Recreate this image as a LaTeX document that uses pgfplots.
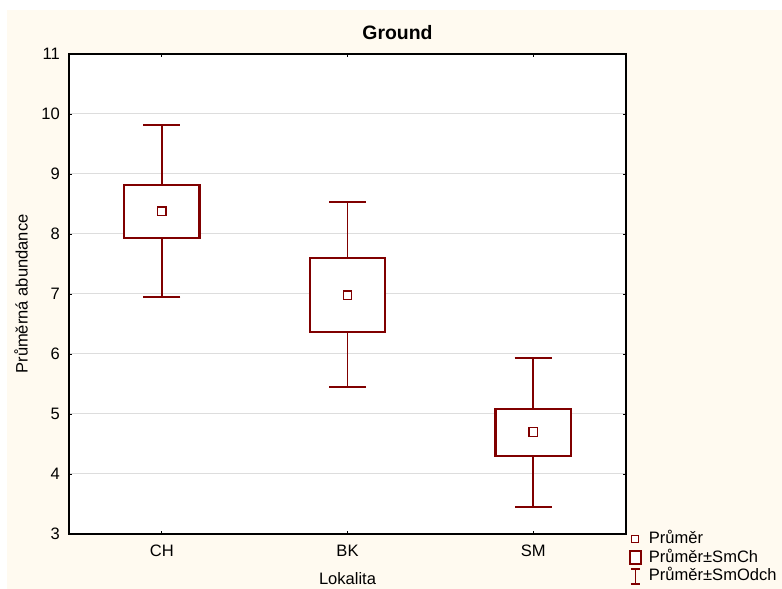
\documentclass[border=0pt]{standalone}
\usepackage{pgfplots}
\pgfplotsset{compat=1.18}
\usepackage{fontspec}
\setmainfont{Liberation Sans}
\definecolor{boxcol}{HTML}{800000}
\definecolor{cream}{HTML}{FFFAF0}
\definecolor{gridc}{HTML}{DDDDDD}
\begin{document}
\begin{tikzpicture}
\fill[white] (0,0) rectangle (782bp,589bp);
\fill[cream] (7bp,0) rectangle (782bp,579bp);
\useasboundingbox (0,0) rectangle (782bp,589bp);
\begin{axis}[
  at={(69bp,55bp)}, anchor=south west,
  scale only axis, width=557bp, height=480bp,
  axis background/.style={fill=white},
  xmin=-0.5, xmax=2.5, ymin=3, ymax=11,
  xtick={0,1,2}, xticklabels={CH,BK,SM},
  ytick={3,4,5,6,7,8,9,10,11},
  tick pos=both, tick align=inside,
  major tick length=3bp,
  tick style={black, line width=0.8bp},
  ymajorgrids, grid style={gridc, line width=1bp},
  axis line style={black, line width=1.5bp},
  /pgf/number format/assume math mode=true,
  tick label style={font=\fontsize{16.6}{19}\selectfont},
  xticklabel style={anchor=base, yshift=-22.7bp, inner sep=0pt},
  yticklabel style={anchor=east, xshift=-9bp, inner sep=0pt},
  title={Ground},
  title style={at={(axis description cs:0.5,1)}, anchor=base, yshift=9bp, xshift=50bp, font=\bfseries\fontsize{19.5}{23}\selectfont},
  xlabel={Lokalita},
  xlabel style={at={(axis description cs:0.5,0)}, anchor=base, yshift=-50bp, font=\fontsize{16.6}{19}\selectfont},
  ylabel={Průměrná abundance},
  ylabel style={at={(axis description cs:0,0.5)}, anchor=base, yshift=41.3bp, font=\fontsize{16.6}{19}\selectfont},
  legend style={at={(1.004,0.008)}, anchor=north west, draw=none, fill=none,
    inner sep=0pt, row sep=0.5bp,
    font=\fontsize{16.6}{19}\selectfont,
    nodes={text height=12bp, text depth=3bp, inner sep=1.5bp}},
  legend cell align=left,
]
% whiskers: mean +- SD
\addplot[draw=none, mark=none, forget plot,
  error bars/.cd, y dir=both, y explicit,
  error bar style={boxcol, line width=1.8bp},
  error mark options={rotate=90, boxcol, line width=1.8bp, mark size=18.5bp}]
  coordinates {(0,8.38) +- (0,1.43) (1,6.99) +- (0,1.54) (2,4.69) +- (0,1.24)};
% boxes: mean +- SE
\addplot[boxcol, line width=2.2bp, fill=white, line join=miter, line cap=rect, forget plot]
  coordinates {(-0.203,7.93) (0.203,7.93) (0.203,8.82) (-0.203,8.82) (-0.203,7.93)};
\addplot[boxcol, line width=2.2bp, fill=white, line join=miter, line cap=rect, forget plot]
  coordinates {(0.797,6.37) (1.203,6.37) (1.203,7.60) (0.797,7.60) (0.797,6.37)};
\addplot[boxcol, line width=2.2bp, fill=white, line join=miter, line cap=rect, forget plot]
  coordinates {(1.797,4.30) (2.203,4.30) (2.203,5.08) (1.797,5.08) (1.797,4.30)};
% means
\addplot[boxcol, only marks, mark=square*, mark size=4.2bp, mark options={draw=boxcol, fill=white, line width=1.3bp}, forget plot]
  coordinates {(0,8.38) (1,6.98) (2,4.70)};
\addlegendimage{legend image code/.code={
  \path[draw=none] (-5bp,0) -- (14bp,0);
  \draw[boxcol, fill=white, line width=1.1bp] (-1.5bp,-3.5bp) rectangle (5.5bp,3.5bp);}}
\addlegendentry{Průměr}
\addlegendimage{legend image code/.code={
  \path[draw=none] (-5bp,0) -- (14bp,0);
  \draw[boxcol, fill=white, line width=1.8bp] (-3.5bp,-6.5bp) rectangle (7.5bp,6.5bp);}}
\addlegendentry{Průměr±SmCh}
\addlegendimage{legend image code/.code={
  \path[draw=none] (-5bp,0) -- (14bp,0);
  \draw[boxcol, line width=1.6bp] (2bp,-7.5bp) -- (2bp,7.5bp)
    (-2.5bp,7.5bp) -- (6.5bp,7.5bp) (-2.5bp,-7.5bp) -- (6.5bp,-7.5bp);}}
\addlegendentry{Průměr±SmOdch}
\end{axis}
\end{tikzpicture}
\end{document}
